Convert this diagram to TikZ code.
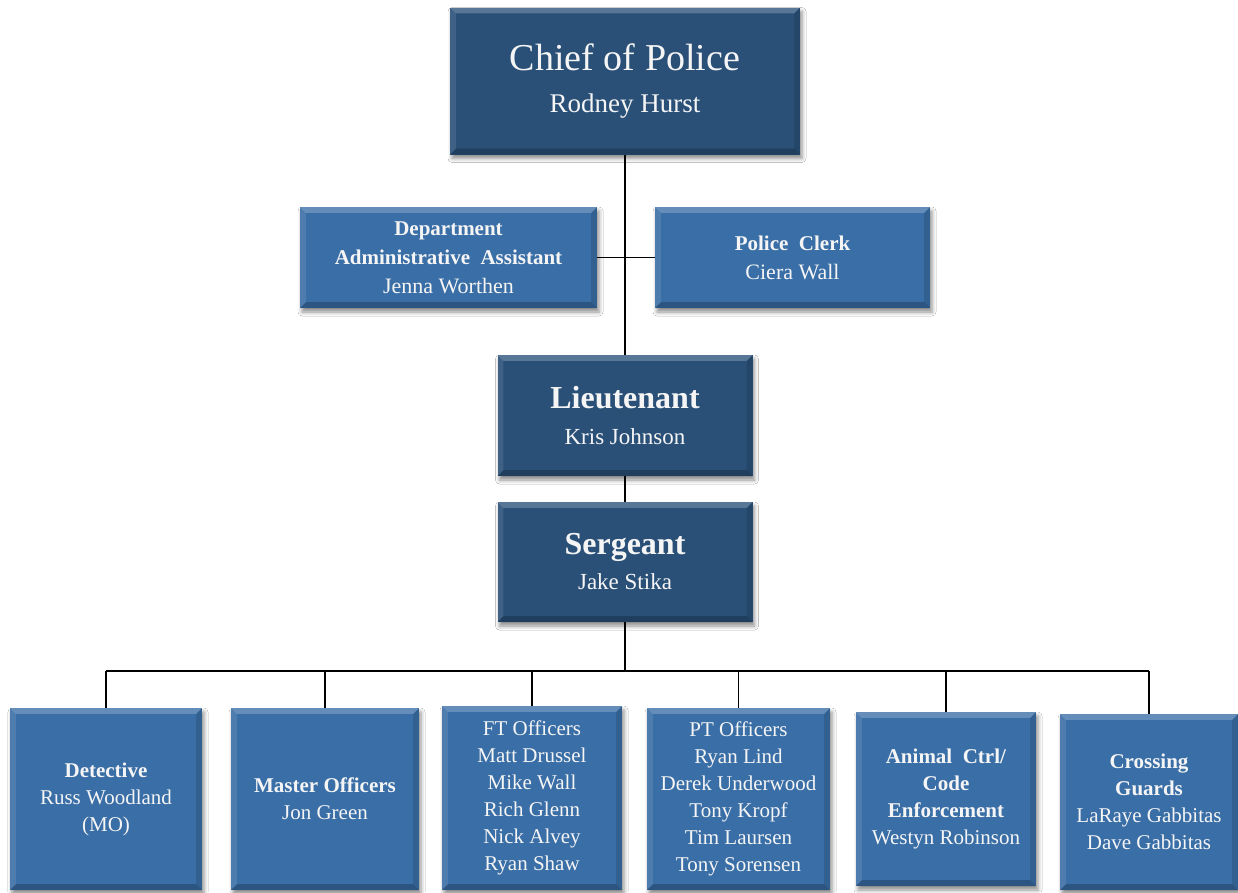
\documentclass[tikz,border=0pt]{standalone}
\usepackage{fontspec}
\setmainfont{Liberation Serif}
\usetikzlibrary{shadows.blur}
\definecolor{darkbox}{RGB}{42,80,120}
\definecolor{midbox}{RGB}{58,110,166}
\definecolor{txt}{RGB}{245,245,245}
\newcommand\bev[1]{%
 \fill[white,opacity=.22] (#1.north west) -- (#1.north east) -- ([xshift=-6pt,yshift=-6pt]#1.north east) -- ([xshift=6pt,yshift=-6pt]#1.north west) -- cycle;
 \fill[white,opacity=.10] (#1.north west) -- ([xshift=6pt,yshift=-6pt]#1.north west) -- ([xshift=6pt,yshift=6pt]#1.south west) -- (#1.south west) -- cycle;
 \fill[black,opacity=.22] (#1.south west) -- ([xshift=6pt,yshift=6pt]#1.south west) -- ([xshift=-6pt,yshift=6pt]#1.south east) -- (#1.south east) -- cycle;
 \fill[black,opacity=.12] (#1.north east) -- (#1.south east) -- ([xshift=-6pt,yshift=6pt]#1.south east) -- ([xshift=-6pt,yshift=-6pt]#1.north east) -- cycle;
}
\newcommand\fs[2]{\fontsize{#1}{#2}\selectfont}
\tikzset{
 box/.style={rectangle, inner sep=0pt, align=center, text=txt,
   blur shadow={shadow xshift=2pt, shadow yshift=-4pt, shadow blur radius=4pt, shadow opacity=45}},
 darkb/.style={box, fill=darkbox},
 midb/.style={box, fill=midbox},
 conn/.style={draw=black, line width=1.9pt},
 small/.style={font=\fs{21}{27}},
}
\begin{document}
\begin{tikzpicture}[x=1pt,y=-1pt]
\useasboundingbox[fill=white] (0,0) rectangle (1238,892);

\coordinate (bar) at (625,671);

\node[darkb, font=\fs{27}{42}, minimum width=350pt, minimum height=147pt] (chief) at (625,81)
  {{\fs{38}{42}Chief of Police}\\Rodney Hurst};
\node[midb, font=\fs{21}{29}, minimum width=297pt, minimum height=101pt] (dept) at (448.5,257.5)
  {\textbf{Department}\\\textbf{Administrative\ \ Assistant}\\{\fs{22}{29}Jenna Worthen}};
\node[midb, font=\fs{21}{29}, minimum width=275pt, minimum height=101pt] (clerk) at (792.5,257.5)
  {\textbf{Police\ \ Clerk}\\{\fs{22}{29}Ciera Wall}};
\node[darkb, font=\fs{23}{36}, minimum width=255pt, minimum height=121pt] (lt) at (625,415.5)
  {{\fs{32}{36}\bfseries Lieutenant}\\Kris Johnson};
\node[darkb, font=\fs{23}{35}, minimum width=255pt, minimum height=120pt] (sgt) at (625,562)
  {{\fs{32}{35}\bfseries Sergeant}\\Jake Stika};

\node[midb, small, minimum width=192pt, minimum height=182pt] (det) at (106,799)
  {\textbf{Detective}\\Russ Woodland\\(MO)};
\node[midb, small, minimum width=188pt, minimum height=182pt] (mast) at (325,799)
  {\textbf{Master Officers}\\Jon Green};
\node[midb, small, minimum width=180pt, minimum height=184pt] (ft) at (532,798)
  {FT Officers\\Matt Drussel\\Mike Wall\\Rich Glenn\\Nick Alvey\\Ryan Shaw};
\node[midb, small, minimum width=183pt, minimum height=182pt] (pt) at (738.5,799)
  {PT Officers\\Ryan Lind\\Derek Underwood\\Tony Kropf\\Tim Laursen\\Tony Sorensen};
\node[midb, small, minimum width=180pt, minimum height=174pt] (anim) at (946,799)
  {\textbf{Animal\ \ Ctrl/}\\\textbf{Code}\\\textbf{Enforcement}\\Westyn Robinson};
\node[midb, small, minimum width=178pt, minimum height=176pt] (cross) at (1149,802)
  {\textbf{Crossing}\\\textbf{Guards}\\LaRaye Gabbitas\\Dave Gabbitas};

\foreach \n in {chief,dept,clerk,lt,sgt,det,mast,ft,pt,anim,cross} {\bev{\n}}

% connectors
\draw[conn] (chief.south) -- (lt.north);
\draw[conn] (dept.east) -- (clerk.west);
\draw[conn] (lt.south) -- (sgt.north);
\draw[conn] (sgt.south) -- (bar);
\draw[conn] (det.north |- bar) -- (cross.north |- bar);
\foreach \n in {det,mast,ft,pt,anim,cross} {\draw[conn] (\n.north) -- (\n.north |- bar);}
\end{tikzpicture}
\end{document}
